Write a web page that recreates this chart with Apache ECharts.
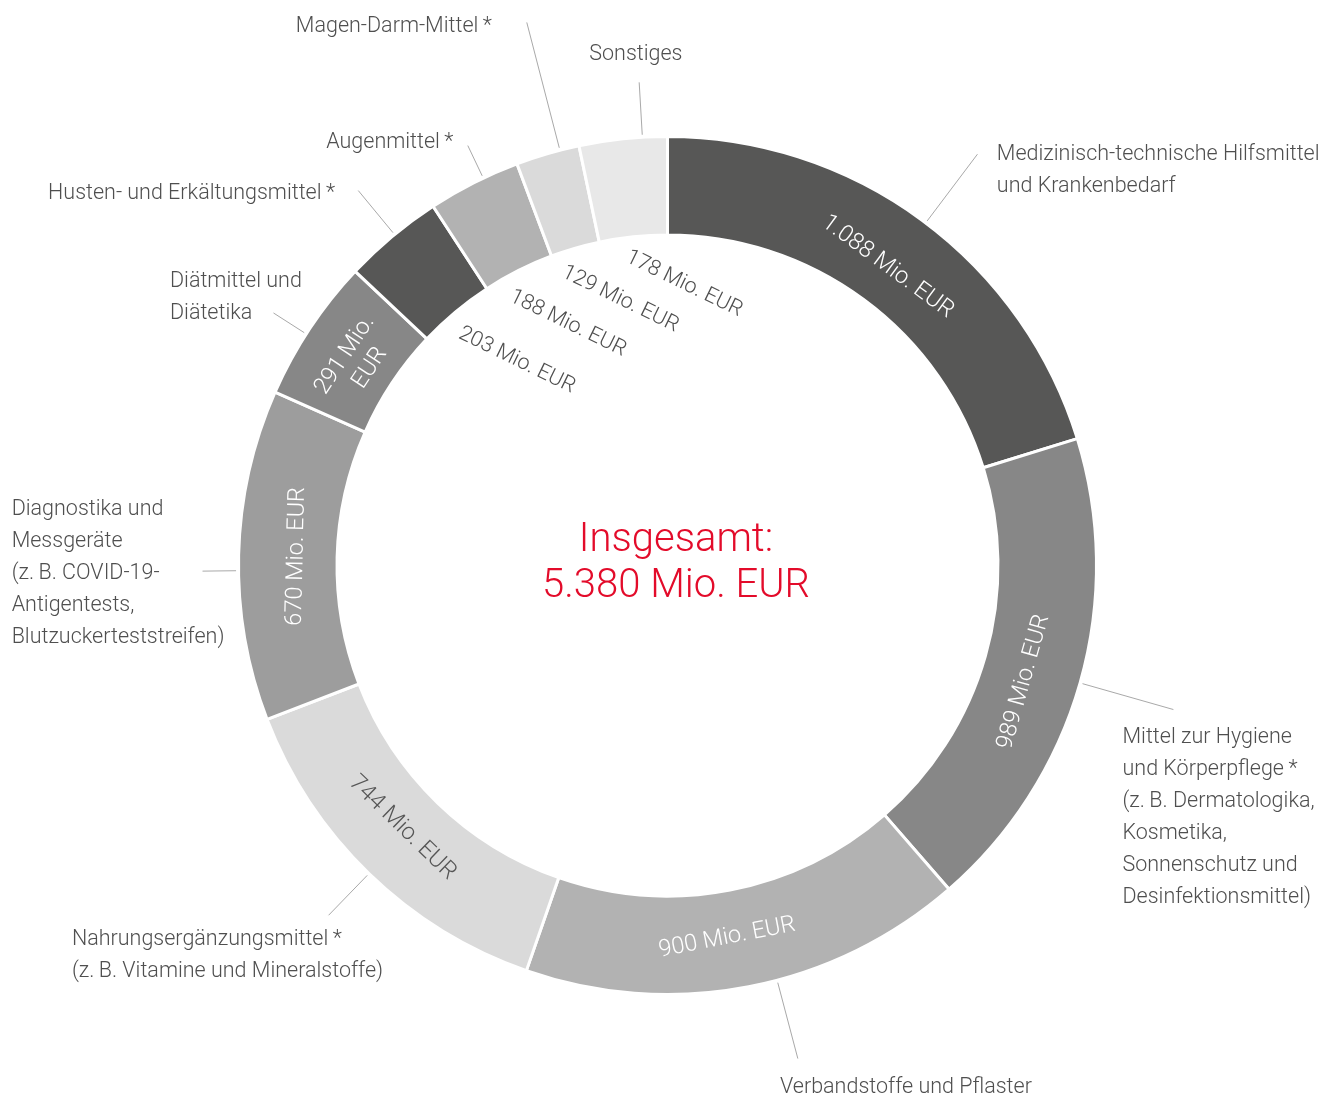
<!DOCTYPE html>
<html>
<head>
<meta charset="utf-8">
<script src="https://cdn.jsdelivr.net/npm/echarts@6/dist/echarts.min.js"></script>
<style>
html,body{margin:0;padding:0;background:#ffffff;}
#chart{width:1334px;height:1095px;}
</style>
</head>
<body>
<div id="chart"></div>
<script>
// ---------- data ----------
const categories = [
  'Medizinisch-technische Hilfsmittel\nund Krankenbedarf',
  'Mittel zur Hygiene\nund Körperpflege\u2009*\n(z.\u2009B. Dermatologika,\nKosmetika,\nSonnenschutz und\nDesinfektionsmittel)',
  'Verbandstoffe und Pflaster',
  'Nahrungsergänzungsmittel\u2009*\n(z.\u2009B. Vitamine und Mineralstoffe)',
  'Diagnostika und\nMessgeräte\n(z.\u2009B. COVID-19-\nAntigentests,\nBlutzuckerteststreifen)',
  'Diätmittel und\nDiätetika',
  'Husten- und Erkältungsmittel\u2009*',
  'Augenmittel\u2009*',
  'Magen-Darm-Mittel\u2009*',
  'Sonstiges'
];
const values = [1088, 989, 900, 744, 670, 291, 203, 188, 129, 178];
const totalTitle = 'Insgesamt:';
const unit = 'Mio. EUR';

// ---------- styling ----------
const sliceColors = ['#575756', '#878787', '#b2b2b2', '#dadada', '#9d9d9d', '#878787', '#575756', '#b2b2b2', '#dadada', '#e8e8e8'];
const valueTextColors = ['#ffffff', '#ffffff', '#ffffff', '#555555', '#ffffff', '#ffffff', '#555555', '#555555', '#555555', '#555555'];
const valueInHole = [false, false, false, false, false, false, true, true, true, true];
const valueWrapWidth = [null, null, null, null, null, 95, null, null, null, null];
// small placement nudges of the value labels: [degrees clockwise, radial px]
const valueNudge = [[0, 0], [2.2, 4], [1.8, 6], [1.2, 2], [0, 0], [0, 0], [1.5, 0], [0, 0], [0, 0], [1.8, 0]];
const leaderLen = [86, 97, 81, 58, 36, 39, 57, 36, 132, 55];
// small angular nudge of each leader line (degrees, clockwise)
const leaderNudge = [0.6, 0, -3.9, 0, -2.1, -0.9, 0.4, 1.4, 1.7, 2.6];
// name label placement relative to the (un-nudged) leader end: dx, dy, align, verticalAlign
const namePlace = [
  [23.7, -12.2, 'left', 'top'],
  [-50.9, 12.1, 'left', 'top'],
  [16, 21, 'left', 'middle'],
  [-256.7, 8, 'left', 'top'],
  [-191, 19.9, 'left', 'middle'],
  [-107.5, -41.3, 'left', 'top'],
  [-20.6, 1.2, 'right', 'middle'],
  [-4.2, -7.7, 'right', 'middle'],
  [-18.9, -0.7, 'right', 'middle'],
  [18.6, -29.2, 'center', 'middle']
];
const FONT = 'Roboto, "Liberation Sans", Arial, sans-serif';
const WEIGHT = 300;
const TEXT = '#4f4f4f';
const CX = 667.5, CY = 565.5, R_IN = 332, R_OUT = 427.5, GAP = 3;

function fmt(v) { return String(v).replace(/\B(?=(\d{3})+(?!\d))/g, '.'); }
const total = values.reduce((a, b) => a + b, 0);

function rot(p, deg) {
  const t = deg * Math.PI / 180, c = Math.cos(t), s = Math.sin(t);
  const x = p[0] - CX, y = p[1] - CY;
  return [CX + x * c - y * s, CY + x * s + y * c];
}
function nudgeAnchor(rect, nd) {
  const ax = rect.x + rect.width / 2, ay = rect.y + rect.height / 2;
  const p = rot([ax, ay], nd[0]);
  const dx = p[0] - CX, dy = p[1] - CY, r = Math.hypot(dx, dy) || 1;
  return [p[0] + dx / r * nd[1], p[1] + dy / r * nd[1]];
}

const chart = echarts.init(document.getElementById('chart'), null, { renderer: 'canvas' });

const ringSeries = {
  type: 'pie',
  name: 'ring',
  center: [CX, CY],
  radius: [R_IN - GAP / 2, R_OUT + GAP / 2],
  startAngle: 90,
  clockwise: true,
  avoidLabelOverlap: false,
  silent: true,
  animation: false,
  emphasis: { disabled: true },
  itemStyle: { borderColor: '#ffffff', borderWidth: GAP },
  label: {
    show: true, position: 'outside', formatter: '{b}',
    color: TEXT, fontSize: 21.5, fontWeight: WEIGHT, lineHeight: 32, fontFamily: FONT, distanceToLabelLine: 0
  },
  labelLine: { show: true, length: 50, length2: 1, smooth: false, lineStyle: { color: '#a9a9a9', width: 1 } },
  labelLayout: function (p) {
    const pts = p.labelLinePoints;
    if (!pts || pts.length < 2) return {};
    const a = pts[0], b = pts[1];
    const len = Math.hypot(b[0] - a[0], b[1] - a[1]) || 1;
    const ux = (b[0] - a[0]) / len, uy = (b[1] - a[1]) / len;
    const i = p.dataIndex;
    const pl = namePlace[i];
    const s = rot([a[0] + ux * 2.5, a[1] + uy * 2.5], leaderNudge[i]);
    const e = rot(b, leaderNudge[i]);
    return {
      x: b[0] + pl[0], y: b[1] + pl[1], align: pl[2], verticalAlign: pl[3],
      labelLinePoints: [s, e]
    };
  },
  data: categories.map((n, i) => ({
    name: n, value: values[i],
    itemStyle: { color: sliceColors[i] },
    labelLine: { length: leaderLen[i] }
  }))
};

const valueSeries = {
  type: 'pie',
  name: 'values',
  center: [CX, CY],
  radius: [316, 420],
  startAngle: 90,
  clockwise: true,
  avoidLabelOverlap: false,
  silent: true,
  animation: false,
  emphasis: { disabled: true },
  itemStyle: { color: 'rgba(0,0,0,0)', borderWidth: 0 },
  labelLine: { show: false },
  label: {
    position: 'inside', rotate: 'tangential',
    formatter: p => fmt(p.value) + ' ' + unit,
    fontSize: 23.5, fontWeight: WEIGHT, lineHeight: 28, fontFamily: FONT
  },
  labelLayout: function (p) {
    const q = nudgeAnchor(p.labelRect, valueNudge[p.dataIndex]);
    return { x: q[0], y: q[1] };
  },
  data: categories.map((n, i) => ({
    name: n, value: values[i],
    label: Object.assign(
      { show: !valueInHole[i], color: valueTextColors[i] },
      valueWrapWidth[i] ? { width: valueWrapWidth[i], overflow: 'break', align: 'center' } : {}
    )
  }))
};

const holeSeries = {
  type: 'pie',
  name: 'hole',
  center: [CX, CY],
  radius: [300, 318],
  startAngle: 93.3,
  clockwise: true,
  avoidLabelOverlap: false,
  silent: true,
  animation: false,
  emphasis: { disabled: true },
  itemStyle: { color: 'rgba(0,0,0,0)', borderWidth: 0 },
  labelLine: { show: false },
  label: {
    position: 'inside', rotate: -26,
    formatter: p => fmt(p.value) + ' ' + unit,
    fontSize: 21.5, fontWeight: WEIGHT, fontFamily: FONT, color: TEXT
  },
  labelLayout: function (p) {
    const q = nudgeAnchor(p.labelRect, valueNudge[p.dataIndex]);
    return { x: q[0], y: q[1], align: 'left', verticalAlign: 'middle' };
  },
  data: categories.map((n, i) => ({
    name: n, value: values[i],
    label: { show: valueInHole[i] }
  }))
};

chart.setOption({
  animation: false,
  backgroundColor: '#ffffff',
  graphic: [{
    type: 'text', x: 676, y: 564, silent: true,
    style: {
      text: totalTitle + '\n' + fmt(total) + ' ' + unit,
      align: 'center', verticalAlign: 'middle', textAlign: 'center', textVerticalAlign: 'middle',
      fill: '#e30b2a', fontSize: 40, fontWeight: WEIGHT, fontFamily: FONT, lineHeight: 46
    }
  }],
  series: [ringSeries, valueSeries, holeSeries]
});
</script>
</body>
</html>
